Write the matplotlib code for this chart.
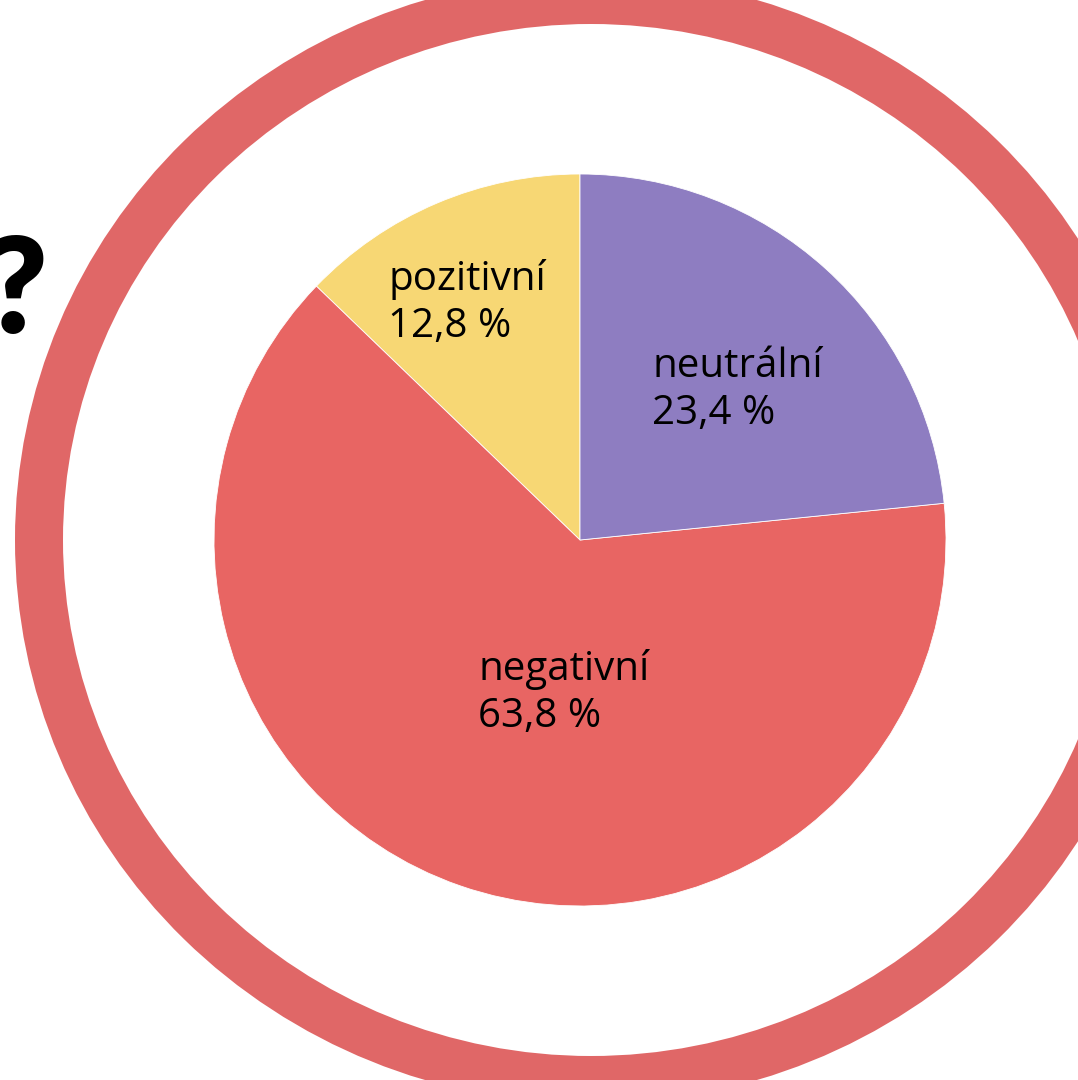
import matplotlib
matplotlib.use("Agg")
import matplotlib.pyplot as plt
from matplotlib.patches import Ellipse

# data
labels = ["pozitivní", "negativní", "neutrální"]
values = [12.8, 63.8, 23.4]
colors = ["#F7D774", "#E86563", "#8E7DC1"]
ring_color = "#E06767"

W, H = 1078, 1080
fig = plt.figure(figsize=(W / 100, H / 100), dpi=100)
ax = fig.add_axes([0, 0, 1, 1])

# outer ring
ring = Ellipse((591, 540), 1104, 1080, fill=False, edgecolor=ring_color,
               linewidth=48 * 0.72)
ax.add_patch(ring)

# pie
wedges, _ = ax.pie(values, colors=colors, startangle=90, counterclock=True,
                   center=(580, 540), radius=366,
                   wedgeprops=dict(edgecolor="white", linewidth=0.6))
ax.set_xlim(0, W)
ax.set_ylim(0, H)
ax.set_aspect("equal")
ax.axis("off")

# label positions (left edge, baseline of first line), pixels from bottom
label_pos = [(388, 790), (478, 400), (652, 703)]
for lab, val, (x, y) in zip(labels, values, label_pos):
    pct = f"{val:.1f}".replace(".", ",") + " %"
    ax.text(x, y, lab, fontsize=29, family="Open Sans", color="black",
            ha="left", va="baseline")
    ax.text(x, y - 47, pct, fontsize=29, family="Open Sans", color="black",
            ha="left", va="baseline")

# question mark at the left edge
ax.text(48, 786, "?", fontsize=96, fontweight="heavy", family="Lato",
        color="black", ha="right", va="center")

fig.savefig("out.png", dpi=100)
